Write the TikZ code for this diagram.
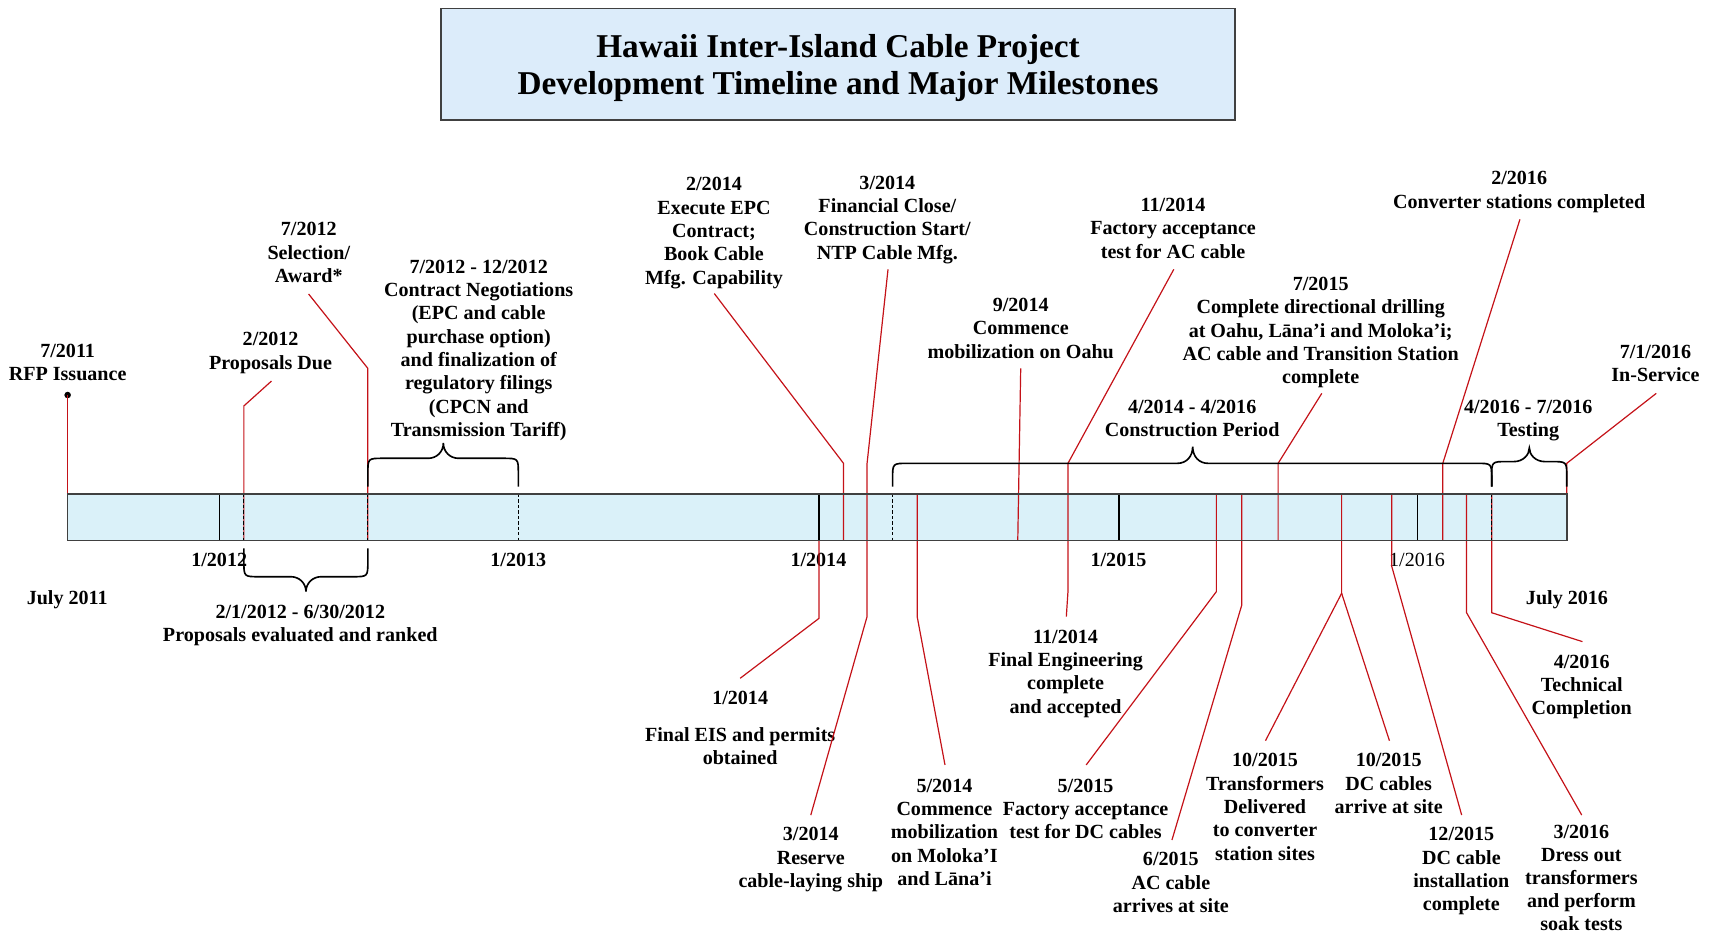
\documentclass[tikz,border=0pt]{standalone}
\usepackage{fontspec}
\setmainfont{Liberation Serif}
\definecolor{milred}{RGB}{196,18,24}
\definecolor{barfill}{RGB}{218,241,249}
\definecolor{titlefill}{RGB}{220,236,250}
\definecolor{edgegray}{RGB}{64,64,64}
\newcommand\lblfont{\fontsize{18.4}{21.4}\selectfont\bfseries}
\newcommand\yrfont{\fontsize{18.4}{21.4}\selectfont}
\newcommand\titlefont{\fontsize{30.5}{34}\selectfont\bfseries}
% curly brace: #1 left x, #2 right x, #3 tip x, #4 end y, #5 body y, #6 tip y, #7 = 1 (opens down) or -1 (opens up)
\newcommand\curlybrace[7]{%
  \draw[bracket] (#1,#4) -- (#1,{#5+(#7)*14}) .. controls (#1,#5) .. ({#1+14},#5)
    -- ({#3-14},#5) .. controls ({#3-6},#5) and (#3,{#5-(#7)*6}) .. (#3,#6)
    .. controls (#3,{#5-(#7)*6}) and ({#3+6},#5) .. ({#3+14},#5)
    -- ({#2-14},#5) .. controls (#2,#5) .. (#2,{#5+(#7)*14}) -- (#2,#4);}
\begin{document}
\begin{tikzpicture}[x=1pt,y=-1pt,
  lbl/.style={align=center, inner sep=0pt, anchor=north, font=\lblfont, yshift=-1.6pt},
  yrlbl/.style={align=center, inner sep=0pt, anchor=north, font=\yrfont, yshift=-1.6pt},
  conn/.style={draw=milred, line width=1.1pt},
  divider/.style={draw=black, line width=1pt},
  dashdiv/.style={draw=black, line width=1pt, dash pattern=on 3pt off 2pt},
  bracket/.style={draw=black, line width=1.5pt},
]
\useasboundingbox (0,0) rectangle (1568,857);

% ---------- title ----------
\path[draw=edgegray, line width=1.4pt, fill=titlefill] (404,8) rectangle (1132,110);
\node[align=center, font=\titlefont, inner sep=0pt] (title) at (768,62.5) {Hawaii Inter-Island Cable Project\\Development Timeline and Major Milestones};

% ---------- timeline bar ----------
\fill[barfill] (62,452.7) rectangle (1436,495.5);

% ---------- milestone labels above the bar ----------
\node[lbl] (rfp)   at (62,310.7)   {\strut 7/2011\\RFP Issuance};
\node[lbl] (pdue)  at (248,300.2)  {\strut 2/2012\\Proposals Due};
\node[lbl] (sel)   at (283,199.3)  {\strut 7/2012\\Selection/\\Award*};
\node[lbl] (neg)   at (438.7,233.6){\strut 7/2012 - 12/2012\\Contract Negotiations\\(EPC and cable\\purchase option)\\and finalization of\\regulatory filings\\(CPCN and\\Transmission Tariff)};
\node[lbl] (epc)   at (654.3,158.1){\strut 2/2014\\Execute EPC\\Contract;\\Book Cable\\Mfg. Capability};
\node[lbl] (fin)   at (813.2,156.6){\strut 3/2014\\Financial Close/\\Construction Start/\\NTP Cable Mfg.};
\node[lbl] (oahu)  at (935.4,268.7){\strut 9/2014\\Commence\\mobilization on Oahu};
\node[lbl] (facac) at (1075,177)   {\strut 11/2014\\Factory acceptance\\test for AC cable};
\node[lbl] (drill) at (1210.3,249.4){\strut 7/2015\\Complete directional drilling\\at Oahu, Lāna’i and Moloka’i;\\AC cable and Transition Station\\complete};
\node[lbl] (cons)  at (1092.5,361.9){\strut 4/2014 - 4/2016\\Construction Period};
\node[lbl] (conv)  at (1392.2,152.6){\strut 2/2016\\Converter stations completed};
\node[lbl] (test)  at (1400.5,361.9){\strut 4/2016 - 7/2016\\Testing};
\node[lbl] (insvc) at (1517.1,311.4){\strut 7/1/2016\\In-Service};

% ---------- axis labels ----------
\node[lbl]   (y2012) at (200.9,502.4) {\strut 1/2012};
\node[lbl]   (y2013) at (475,502.4)   {\strut 1/2013};
\node[lbl]   (y2014) at (750,502.4)   {\strut 1/2014};
\node[lbl]   (y2015) at (1025,502.4)  {\strut 1/2015};
\node[yrlbl] (y2016) at (1298.6,502.4){\strut 1/2016};
\node[lbl]   (jul11) at (61.6,536.9)  {\strut July 2011};
\node[lbl]   (jul16) at (1436,536.9)  {\strut July 2016};

% ---------- milestone labels below the bar ----------
\node[lbl] (eval)   at (275.2,549.7) {\strut 2/1/2012 - 6/30/2012\\Proposals evaluated and ranked};
\node[lbl] (eis)    at (678.3,629.1) {\strut 1/2014\\[12.2pt]Final EIS and permits\\obtained};
\node[lbl] (ship)   at (743,753.7)   {\strut 3/2014\\Reserve\\cable-laying ship};
\node[lbl] (molo)   at (865.5,709.2) {\strut 5/2014\\Commence\\mobilization\\on Moloka’I\\and Lāna’i};
\node[lbl] (fineng) at (976.5,572.7) {\strut 11/2014\\Final Engineering\\complete\\and accepted};
\node[lbl] (facdc)  at (994.8,709.2) {\strut 5/2015\\Factory acceptance\\test for DC cables};
\node[lbl] (acarr)  at (1073,776.7)  {\strut 6/2015\\AC cable\\arrives at site};
\node[lbl] (xfmr)   at (1159.3,686)  {\strut 10/2015\\Transformers\\Delivered\\to converter\\station sites};
\node[lbl] (dcarr)  at (1272.6,686)  {\strut 10/2015\\DC cables\\arrive at site};
\node[lbl] (dcinst) at (1339.2,753.8){\strut 12/2015\\DC cable\\installation\\complete};
\node[lbl, font=\fontsize{18.4}{21}\selectfont\bfseries] (dress) at (1449.2,752.3){\strut 3/2016\\Dress out\\transformers\\and perform\\soak tests};
\node[lbl] (tech)   at (1449.5,595.6){\strut 4/2016\\Technical\\Completion};

% ---------- connector end points ----------
\node[circle, fill=black, inner sep=0pt, minimum size=6pt] (rfpdot) at (62,362) {};
\coordinate (rfp-b)    at (62,452.7);
\coordinate (pdue-s)   at (248.8,349.2);
\coordinate (pdue-k)   at (223.5,372);
\coordinate (pdue-b)   at (223.5,495.5);
\coordinate (sel-s)    at (282.8,269.4);
\coordinate (sel-k)    at (337.1,337.6);
\coordinate (sel-b)    at (337.1,495.5);
\coordinate (epc-s)    at (654.6,269);
\coordinate (epc-k)    at (773,424.6);
\coordinate (epc-b)    at (773,495.5);
\coordinate (fin-s)    at (813.8,246.8);
\coordinate (fin-k)    at (794.6,424.6);
\coordinate (fin-b)    at (794.6,495.5);
\coordinate (ship-k)   at (794.6,565);
\coordinate (ship-n)   at (743,747);
\coordinate (eis-b)    at (750.5,495.5);
\coordinate (eis-k)    at (750.5,566.7);
\coordinate (eis-n)    at (678.3,621.6);
\coordinate (molo-b)   at (840.5,452.7);
\coordinate (molo-k)   at (840.5,565);
\coordinate (molo-n)   at (866,701);
\coordinate (oahu-s)   at (935.4,337.6);
\coordinate (oahu-b)   at (932.7,495.5);
\coordinate (facac-s)  at (1075.7,246.8);
\coordinate (facac-k)  at (978.7,424.6);
\coordinate (facac-b)  at (978.7,495.5);
\coordinate (fineng-k) at (978.7,542.2);
\coordinate (fineng-n) at (977.2,565);
\coordinate (facdc-b)  at (1114.7,452.7);
\coordinate (facdc-k)  at (1114.7,542.2);
\coordinate (facdc-n)  at (995.4,701);
\coordinate (acarr-b)  at (1138,452.7);
\coordinate (acarr-k)  at (1138,554.4);
\coordinate (acarr-n)  at (1074,769.8);
\coordinate (drill-s)  at (1211.3,360.5);
\coordinate (drill-k)  at (1171.3,424.6);
\coordinate (drill-b)  at (1171.3,495.5);
\coordinate (oct-b)    at (1229.5,452.7);
\coordinate (oct-k)    at (1229.5,543.7);
\coordinate (xfmr-n)   at (1159.7,678.8);
\coordinate (dcarr-n)  at (1273.3,678.8);
\coordinate (dcinst-b) at (1275.5,452.7);
\coordinate (dcinst-k) at (1275.5,519.3);
\coordinate (dcinst-n) at (1339.5,746.9);
\coordinate (conv-s)   at (1392.9,201);
\coordinate (conv-k)   at (1322.2,424.6);
\coordinate (conv-b)   at (1322.2,495.5);
\coordinate (dress-b)  at (1344,452.7);
\coordinate (dress-k)  at (1344,561.5);
\coordinate (dress-n)  at (1449.5,746.9);
\coordinate (tech-b)   at (1367,452.7);
\coordinate (tech-k)   at (1367,561.5);
\coordinate (tech-n)   at (1450.2,588);
\coordinate (insvc-s)  at (1517.8,360.5);
\coordinate (insvc-k)  at (1435.8,424.6);
\coordinate (insvc-b)  at (1435.8,495.5);

% ---------- connectors ----------
\draw[conn] (rfpdot.center) -- (rfp-b);
\draw[conn] (pdue-s) -- (pdue-k) -- (pdue-b);
\draw[conn] (sel-s) -- (sel-k) -- (sel-b);
\draw[conn] (epc-s) -- (epc-k) -- (epc-b);
\draw[conn] (fin-s) -- (fin-k) -- (fin-b);
\draw[conn] (fin-b) -- (ship-k) -- (ship-n);
\draw[conn] (eis-b) -- (eis-k) -- (eis-n);
\draw[conn] (molo-b) -- (molo-k) -- (molo-n);
\draw[conn] (oahu-s) -- (oahu-b);
\draw[conn] (facac-s) -- (facac-k) -- (facac-b);
\draw[conn] (facac-b) -- (fineng-k) -- (fineng-n);
\draw[conn] (facdc-b) -- (facdc-k) -- (facdc-n);
\draw[conn] (acarr-b) -- (acarr-k) -- (acarr-n);
\draw[conn] (drill-s) -- (drill-k) -- (drill-b);
\draw[conn] (oct-b) -- (oct-k) -- (xfmr-n);
\draw[conn] (oct-k) -- (dcarr-n);
\draw[conn] (dcinst-b) -- (dcinst-k) -- (dcinst-n);
\draw[conn] (conv-s) -- (conv-k) -- (conv-b);
\draw[conn] (dress-b) -- (dress-k) -- (dress-n);
\draw[conn] (tech-b) -- (tech-k) -- (tech-n);
\draw[conn] (insvc-s) -- (insvc-k) -- (insvc-b);

% ---------- year dividers and period marks in the bar ----------
\foreach \x in {201,750.5,1025.5,1298.6}
  \draw[divider] (\x,452.7) -- (\x,495.5);
\foreach \x in {223.5,337.1,475,818,1367,1435.8}
  \draw[dashdiv] (\x,452.7) -- (\x,495.5);
\draw[draw=edgegray, line width=1.3pt] (62,452.7) rectangle (1436,495.5);

% ---------- period braces ----------
\curlybrace{337.1}{475}{406.3}{446}{420}{406}{1}
\curlybrace{818}{1367}{1093}{446}{424.6}{409.3}{1}
\curlybrace{1367}{1435.8}{1401.5}{446}{423}{410.5}{1}
\curlybrace{223.5}{337.1}{280.4}{502.5}{528.5}{542.2}{-1}
\end{tikzpicture}
\end{document}
